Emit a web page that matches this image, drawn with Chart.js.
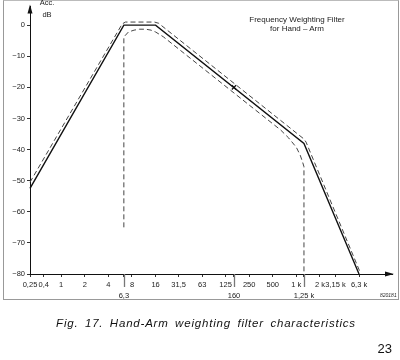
<!DOCTYPE html>
<html>
<head>
<meta charset="utf-8">
<script src="https://cdn.jsdelivr.net/npm/chart.js@4"></script>
<style>
  body { margin: 0; background: #fff; }
  #wrap { position: relative; width: 400px; height: 360px; font-family: "Liberation Sans", Arial, sans-serif; color: #222; }
  #chart { position: absolute; left: 0; top: 0; }
  .frame { position: absolute; left: 3px; top: 0; width: 394px; height: 298px; border: 1px solid #999; border-top-color: #bbb; }
  .acc { position: absolute; left: 36px; top: -3px; width: 22px; text-align: center; font-size: 7.5px; line-height: 12px; }
  .title { position: absolute; left: 230px; top: 16px; width: 134px; text-align: center; font-size: 8px; line-height: 8.5px; }
  .caption { position: absolute; left: 0; top: 316px; width: 412px; text-align: center; font-size: 11.5px; line-height: 14px; font-style: italic; letter-spacing: 0.8px; word-spacing: 2.5px; color: #111; }
  .page { position: absolute; left: 370px; top: 342px; width: 22px; text-align: right; font-size: 13px; line-height: 14px; color: #111; }
  .code { position: absolute; left: 380px; top: 292px; font-size: 5px; font-style: italic; }
</style>
</head>
<body>
<div id="wrap">
  <div class="frame"></div>
  <canvas id="chart" width="400" height="360"></canvas>
  <div class="acc">Acc.<br>dB</div>
  <div class="title">Frequency Weighting Filter<br>for Hand &ndash; Arm</div>
  <div class="code">820181</div>
  <div class="caption">Fig. 17. Hand-Arm weighting filter characteristics</div>
  <div class="page">23</div>
</div>
<script>
// frequency axis (Hz) and labels as printed
const tickFreq = [0.4, 0.6, 1, 2, 4, 6.3, 8, 16, 31.5, 63, 125, 160, 250, 500, 1000, 1250, 2000, 3150, 6300];
const tickText = ["0,25", "0,4", "1", "2", "4", "6,3", "8", "16", "31,5", "63", "125", "160", "250", "500", "1 k", "1,25 k", "2 k", "3,15 k", "6,3 k"];
const secondRowFreq = [6.3, 160, 1250];
const yTickDb = [0, -10, -20, -30, -40, -50, -60, -70, -80];

// nominal weighting curve
const nominalFreq = [0.4, 6.3, 16, 1250, 6300];
const nominalDb = [-52.5, 0, 0, -38, -80];

// upper tolerance limit
const upperFreq = [0.4, 6.0, 6.6, 15.5, 17.5, 1250, 1330, 6400];
const upperDb = [-50.5, 0.4, 1, 1, 0.6, -36.6, -37.6, -79];

// lower tolerance limit
const lowerFreq = [6.3, 6.3, 7.2, 8.5, 10, 12, 14, 16, 20, 160, 630, 800, 1000, 1120, 1200, 1250, 1250];
const lowerDb = [-65, -3.8, -2.2, -1.6, -1.3, -1.3, -1.6, -2.2, -3.7, -21.8, -33.7, -36.3, -39.3, -41.8, -44, -45.5, -80];

// marked point on the nominal curve
const markFreq = [160];
const markDb = [-20];

const FONT = "'Liberation Sans', Arial, sans-serif";

function pts(fs, ds) {
  return fs.map((f, i) => ({ x: f, y: ds[i] }));
}

const axisDecor = {
  id: "axisDecor",
  afterDraw(chart) {
    const c = chart.ctx;
    const a = chart.chartArea;
    const xs = chart.scales.x;
    c.save();
    c.fillStyle = "#111";
    // arrow on top of the dB axis
    c.beginPath();
    c.moveTo(a.left, a.top - 2);
    c.lineTo(a.left - 2.5, a.top + 7);
    c.lineTo(a.left + 2.5, a.top + 7);
    c.closePath();
    c.fill();
    // arrow at the end of the frequency axis
    c.beginPath();
    c.moveTo(a.right + 2, a.bottom);
    c.lineTo(a.right - 7, a.bottom - 2.5);
    c.lineTo(a.right - 7, a.bottom + 2.5);
    c.closePath();
    c.fill();
    // long ticks for the second label row
    c.strokeStyle = "#777";
    c.lineWidth = 1.3;
    secondRowFreq.forEach(f => {
      const x = Math.round(xs.getPixelForValue(f)) + 0.5;
      c.beginPath();
      c.moveTo(x, a.bottom);
      c.lineTo(x, a.bottom + 13);
      c.stroke();
    });
    c.restore();
  }
};

new Chart(document.getElementById("chart").getContext("2d"), {
  type: "scatter",
  data: {
    datasets: [
      {
        label: "upper",
        data: pts(upperFreq, upperDb),
        showLine: true,
        borderColor: "#444",
        borderWidth: 1,
        borderDash: [5, 3],
        pointRadius: 0,
        clip: false
      },
      {
        label: "lower",
        data: pts(lowerFreq, lowerDb),
        showLine: true,
        borderColor: "#444",
        borderWidth: 1,
        borderDash: [5, 3],
        pointRadius: 0,
        clip: false
      },
      {
        label: "nominal",
        data: pts(nominalFreq, nominalDb),
        showLine: true,
        borderColor: "#111",
        borderWidth: 1.4,
        pointRadius: 0,
        clip: false
      },
      {
        label: "mark",
        data: pts(markFreq, markDb),
        showLine: false,
        pointStyle: "crossRot",
        pointRadius: 3,
        borderColor: "#111",
        borderWidth: 1.2
      }
    ]
  },
  options: {
    responsive: false,
    animation: false,
    devicePixelRatio: 1,
    layout: { padding: { left: 0, right: 8, top: 3, bottom: 0 } },
    plugins: { legend: { display: false }, tooltip: { enabled: false } },
    scales: {
      x: {
        type: "logarithmic",
        min: 0.4,
        max: 16600,
        afterBuildTicks: s => { s.ticks = tickFreq.map(v => ({ value: v })); },
        afterFit: s => { s.height = 86; },
        grid: { drawOnChartArea: false, drawTicks: true, tickLength: 3, color: "#333" },
        border: { color: "#111", width: 1 },
        ticks: {
          autoSkip: false,
          maxRotation: 0,
          minRotation: 0,
          padding: 2,
          color: "#222",
          font: { family: FONT, size: 7.5, lineHeight: 1.5 },
          callback: (v, i) => secondRowFreq.includes(tickFreq[i]) ? ["", tickText[i]] : tickText[i]
        }
      },
      y: {
        min: -80,
        max: 6,
        afterBuildTicks: s => { s.ticks = yTickDb.map(v => ({ value: v })); },
        afterFit: s => { s.width = 30; },
        grid: { drawOnChartArea: false, drawTicks: true, tickLength: 3, color: "#333" },
        border: { color: "#111", width: 1 },
        ticks: {
          padding: 2,
          color: "#222",
          font: { family: FONT, size: 7.5 },
          callback: v => v === 0 ? "0" : "\u2212" + Math.abs(v)
        }
      }
    }
  },
  plugins: [axisDecor]
});
</script>
</body>
</html>
